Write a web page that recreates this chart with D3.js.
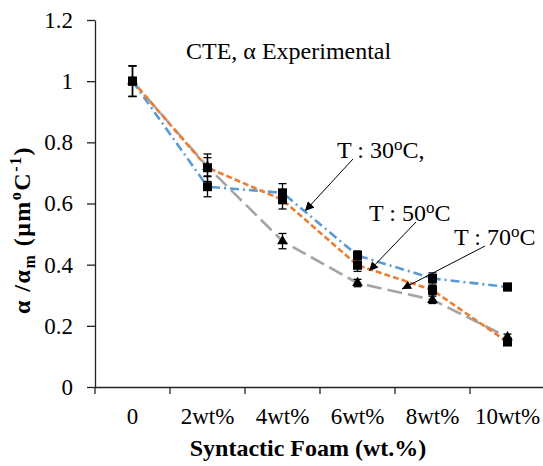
<!DOCTYPE html>
<html><head><meta charset="utf-8">
<script src="https://cdn.jsdelivr.net/npm/d3@7"></script>
<style>
body{margin:0;background:#fff;}
svg, svg text{font-family:"Liberation Serif","Times New Roman",serif !important;}
</style></head>
<body><svg id="c" width="543" height="466"></svg>
<script>
const categories = ["0","2wt%","4wt%","6wt%","8wt%","10wt%"];
const yTicks = [0,0.2,0.4,0.6,0.8,1,1.2];
const t30 = [1.0, 0.655, 0.635, 0.43, 0.355, 0.327];
const t30err = [0.05, 0.033, 0.03, 0.015, 0.018, 0.012];
const t50 = [1.0, 0.717, 0.612, 0.398, 0.317, 0.147];
const t70 = [1.0, 0.72, 0.477, 0.34, 0.285, 0.163];
const t50err = [0.05, 0.045, 0.03, 0.02, 0.015, 0.01];
const t70err = [0.05, 0.03, 0.025, 0.012, 0.012, 0.01];

const svg = d3.select("#c");
const x = d3.scaleBand().domain(categories).range([95,545]).padding(0);
const y = d3.scaleLinear().domain([0,1.2]).range([387,20]);
const cx = c => x(c) + x.bandwidth()/2;

// axes
const ya = svg.append("g").attr("transform","translate(95,0)")
  .call(d3.axisLeft(y).tickValues(yTicks).tickSize(8).tickSizeOuter(0).tickPadding(14)
    .tickFormat(d => (d===0||d===1) ? String(d) : d.toFixed(1)));
ya.attr("font-family",null).attr("font-size",null);
ya.selectAll("text").style("font-size","23px").attr("fill","#000");
ya.selectAll("line,path").attr("stroke","#222").attr("stroke-width",1.3);

const xa = svg.append("g").attr("transform","translate(0,387)")
  .call(d3.axisBottom(x).tickSize(0).tickPadding(21).tickSizeOuter(0));
xa.attr("font-family",null).attr("font-size",null);
xa.selectAll("text").style("font-size","23px").attr("fill","#000");
xa.select("path").attr("stroke","#222").attr("stroke-width",1.3);
xa.selectAll(".edge").data(categories).enter().append("line").attr("class","edge")
  .attr("x1",d=>x(d)).attr("x2",d=>x(d)).attr("y1",0).attr("y2",7)
  .attr("stroke","#222").attr("stroke-width",1.3);

// lines
const series = [
  {v:t70, e:t70err, color:"#A5A5A5", dash:"15,6", sym:"tri"},
  {v:t30, e:t30err, color:"#5B9BD5", dash:"9,4,2,4", sym:"sq"},
  {v:t50, e:t50err, color:"#ED7D31", dash:"6,3", sym:"sq"}
];
const line = d3.line().x((d,i)=>cx(categories[i])).y(d=>y(d));
series.forEach(s=>{
  svg.append("path").datum(s.v).attr("d",line).attr("fill","none")
    .attr("stroke",s.color).attr("stroke-width",2.6).attr("stroke-dasharray",s.dash);
});
// error bars and markers
series.forEach(s=>{
  const g = svg.append("g");
  s.v.forEach((v,i)=>{
    const px = cx(categories[i]);
    const y1 = y(v+s.e[i]), y2 = y(v-s.e[i]);
    g.append("line").attr("x1",px).attr("x2",px).attr("y1",y1).attr("y2",y2).attr("stroke","#000").attr("stroke-width",1.3);
    [y1,y2].forEach(yy=>g.append("line").attr("x1",px-4).attr("x2",px+4).attr("y1",yy).attr("y2",yy).attr("stroke","#000").attr("stroke-width",1.3));
    const sym = s.sym==="sq" ? d3.symbolSquare : d3.symbolTriangle;
    g.append("path").attr("d",d3.symbol(sym, s.sym==="sq"?81:50)())
      .attr("transform",`translate(${px},${y(v)})`).attr("fill","#000");
  });
});

// title
svg.append("text").attr("x",186).attr("y",59).style("font-size","24px").text("CTE, α Experimental");

// annotations
svg.append("defs").append("marker").attr("id","ah").attr("viewBox","0 0 10 10")
  .attr("refX",10).attr("refY",5).attr("markerWidth",12).attr("markerHeight",9)
  .attr("markerUnits","userSpaceOnUse").attr("orient","auto")
  .append("path").attr("d","M0,0L10,5L0,10Z").attr("fill","#000");
const ann = [
  {t:"30", tail:",", tx:337, ty:158, x1:353, y1:159, x2:305, y2:211},
  {t:"50", tail:"", tx:369, ty:221, x1:416, y1:222, x2:369, y2:271},
  {t:"70", tail:"", tx:454, ty:245, x1:485, y1:246, x2:402, y2:289}
];
ann.forEach(a=>{
  const t = svg.append("text").attr("x",a.tx).attr("y",a.ty).style("font-size","24px");
  t.append("tspan").text("T : "+a.t);
  t.append("tspan").style("font-size","17px").attr("dy",-8).text("o");
  t.append("tspan").attr("dy",8).text("C"+a.tail);
  svg.append("line").attr("x1",a.x1).attr("y1",a.y1).attr("x2",a.x2).attr("y2",a.y2)
    .attr("stroke","#000").attr("stroke-width",1).attr("marker-end","url(#ah)");
});

// axis titles
svg.append("text").attr("x",308).attr("y",456).attr("text-anchor","middle")
  .style("font-size","24px").attr("font-weight","bold").text("Syntactic Foam (wt.%)");
const yl = svg.append("text").attr("transform","translate(30,230) rotate(-90)")
  .attr("text-anchor","middle").style("font-size","24px").style("letter-spacing","1.5px").attr("font-weight","bold");
yl.append("tspan").text("α /α");
yl.append("tspan").style("font-size","16px").attr("dy",5).text("m");
yl.append("tspan").attr("dy",-5).text(" (μm");
yl.append("tspan").style("font-size","16px").attr("dy",-9).text("o");
yl.append("tspan").attr("dy",9).text("C");
yl.append("tspan").style("font-size","16px").attr("dy",-9).text("-1");
yl.append("tspan").attr("dy",9).text(")");
</script></body></html>
